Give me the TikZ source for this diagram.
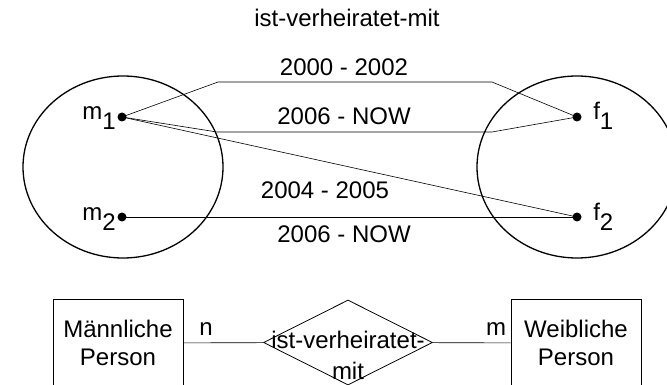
\documentclass[tikz,border=0pt]{standalone}
\usepackage{fontspec}
\setmainfont{Liberation Sans}
\usetikzlibrary{shapes.geometric}

\begin{document}
\begin{tikzpicture}[x=1pt, y=-1pt, line width=0.6pt,
    every node/.style={font=\fontsize{24}{28}\selectfont},
    member/.style={circle, fill, inner sep=0pt, minimum size=9pt},
    entity/.style={draw, line width=0.8pt, minimum width=130pt, minimum height=88pt, align=center},
    relation/.style={draw, diamond, line width=0.8pt, minimum width=169pt, minimum height=85pt, inner sep=0pt}]
  \useasboundingbox (0, 0) rectangle (667, 385);
  \clip (0, 0) rectangle (667, 385);
  \node[anchor=base] (title) at (347, 27) {ist-verheiratet-mit};
  % the two sets
  \draw[line width=1.3pt] (123, 167) ellipse (100 and 91);
  \draw[line width=1.3pt] (577, 167) ellipse (100 and 91);
  \node[member] (m1) at (122, 117) {};
  \node[member] (m2) at (122, 217) {};
  \node[member] (f1) at (577, 117) {};
  \node[member] (f2) at (577, 217) {};
  \node[anchor=base west, inner sep=0pt] at (82, 120) {m\raisebox{-10pt}{1}};
  \node[anchor=base west, inner sep=0pt] at (82, 220) {m\raisebox{-10pt}{2}};
  \node[anchor=base west, inner sep=0pt] at (593, 120) {f\raisebox{-10pt}{1}};
  \node[anchor=base west, inner sep=0pt] at (593, 220) {f\raisebox{-10pt}{2}};
  % marriages
  \coordinate (a1) at (218, 82);
  \coordinate (a2) at (492, 82);
  \coordinate (b1) at (217, 132);
  \coordinate (b2) at (492, 132);
  \draw (m1.center) -- (a1) -- (a2) -- (f1.center);
  \draw (m1.center) -- (b1) -- (b2) -- (f1.center);
  \draw (m1.center) -- (f2.center);
  \draw (m2.center) -- (f2.center);
  \node[anchor=base] at (344, 76) {2000 - 2002};
  \node[anchor=base] at (344, 125) {2006 - NOW};
  \node[anchor=base] at (325, 198) {2004 - 2005};
  \node[anchor=base] at (344, 242) {2006 - NOW};
  % ER model
  \node[entity] (male) at (118, 343) {Männliche\\Person};
  \node[entity] (female) at (576, 343) {Weibliche\\Person};
  \node[relation] (marriage) at (348, 342.5) {};
  \node[align=center, font=\fontsize{24}{31}\selectfont] at (348, 355) {ist-verheiratet-\\mit};
  \draw (male) -- (marriage);
  \draw (marriage) -- (female);
  \node[anchor=base] at (206, 335) {n};
  \node[anchor=base] at (496, 335) {m};
\end{tikzpicture}
\end{document}
